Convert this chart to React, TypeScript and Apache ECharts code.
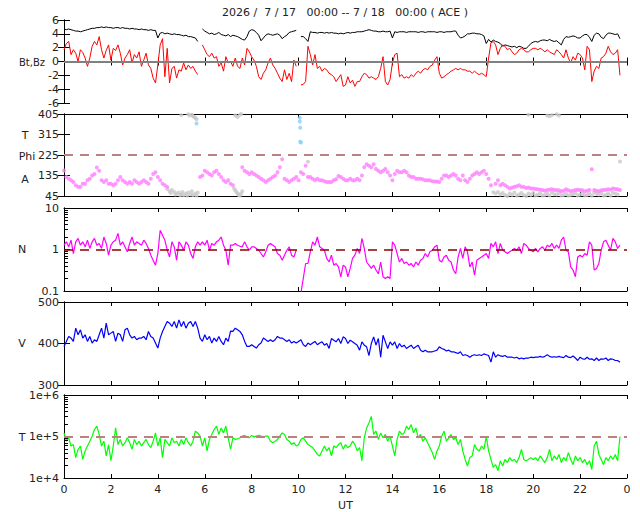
import React, { useEffect, useRef } from 'react';
import * as echarts from 'echarts';

const STEP = 0.1;
const FONT = 'DejaVu Sans';
const TITLE = '2026 /  7 / 17   00:00 -- 7 / 18   00:00 ( ACE )';
const X_TICKS_MAX = 24;

// Bt (black), one value per 0.1 h
const BT = [
  4.7,4.6,4.7,4.6,4.5,4.4,4.4,4.3,4.4,4.5,
  4.6,4.7,4.8,4.8,4.9,4.9,5.0,4.9,5.0,4.9,
  4.9,4.8,4.9,4.9,4.8,4.9,4.8,4.8,4.7,4.8,
  4.7,4.7,4.6,4.7,4.6,4.6,4.5,4.6,4.5,4.5,
  3.4,4.1,4.2,4.0,4.1,4.0,3.9,4.0,3.9,3.9,
  3.8,3.7,3.8,3.6,3.6,3.5,3.4,2.9,null,4.7,
  4.4,4.2,4.0,4.1,3.9,4.0,4.2,3.9,3.8,3.7,
  3.9,3.6,3.8,3.7,3.6,3.4,3.2,3.1,3.6,4.4,
  4.6,4.5,4.2,3.8,3.0,3.4,3.8,4.0,3.9,3.8,
  3.9,4.0,3.8,3.3,3.6,3.8,4.2,4.3,4.4,4.5,
  null,3.6,3.6,3.3,2.9,4.3,4.2,4.2,4.1,4.2,
  4.2,4.1,4.2,4.1,4.2,4.1,4.1,4.0,4.1,4.0,
  4.1,4.2,4.1,4.2,4.2,4.3,4.3,4.3,4.4,4.5,
  4.6,4.5,4.4,4.4,4.3,4.3,4.4,4.3,4.3,4.4,
  3.4,4.3,4.2,4.3,4.3,4.3,4.2,4.3,4.3,4.3,
  4.3,4.2,4.3,4.3,4.2,4.3,4.3,4.3,4.3,4.2,
  4.3,4.3,4.2,4.3,4.3,4.3,4.4,4.4,3.8,3.4,
  3.5,3.7,4.0,4.0,4.1,4.1,4.0,4.0,3.9,3.7,
  2.6,3.2,2.8,3.1,2.9,2.8,2.6,2.2,2.4,2.3,
  2.2,2.1,2.2,2.0,2.2,2.1,1.9,1.9,2.2,2.6,
  2.8,2.9,2.8,3.0,3.1,3.1,3.0,3.2,3.0,2.9,
  3.0,2.7,2.4,3.2,3.6,3.5,3.6,3.7,3.6,3.4,
  3.4,3.7,3.9,3.9,3.5,2.9,3.8,4.1,4.0,3.5,
  3.3,3.8,4.1,4.1,4.0,3.9,4.0,3.3,
];

// Bz (red)
const BZ = [
  1.7,2.6,2.9,1.0,1.7,1.2,0.0,1.7,1.3,0.5,
  -0.7,0.5,2.2,2.9,2.4,3.6,1.7,0.5,1.6,2.4,
  0.2,1.9,1.6,2.4,1.2,-0.5,0.5,1.0,1.7,-0.2,
  1.0,0.5,1.4,-0.7,0.2,1.2,-0.5,-1.0,-2.4,-3.1,
  -0.5,2.4,3.3,-2.2,1.9,-3.1,-1.0,-0.7,-2.4,-1.2,
  -1.4,-0.2,-1.2,-0.5,-1.0,-0.7,-1.4,-1.9,null,2.4,
  1.7,1.0,0.7,1.2,0.5,0.7,-0.7,-0.2,-1.4,0.7,
  -0.2,0.0,-0.7,0.5,-0.7,-1.0,0.5,-0.5,1.9,1.4,
  0.7,0.2,-0.7,-2.2,-2.6,-1.7,-1.2,-0.2,0.5,-0.5,
  -1.0,-1.7,-2.4,-2.9,-1.2,-2.6,-1.7,-2.9,0.2,-0.7,
  null,-3.4,-3.3,-2.9,2.2,1.0,-0.5,1.0,-1.0,-0.7,
  -1.4,-1.0,-1.2,-1.7,-1.9,-2.2,-2.9,-2.4,-1.9,-3.6,
  -3.4,-2.2,-3.1,-2.7,-3.6,-2.9,-2.9,-2.2,-1.7,-1.9,
  -2.4,-2.2,-2.4,-2.6,-2.2,-1.0,0.7,-2.9,-3.4,-2.6,
  -0.2,1.0,1.2,-2.2,-1.9,-2.4,-2.2,-2.4,-1.9,-2.2,
  -1.7,-1.4,-1.7,-1.2,-1.0,-1.2,-0.7,-0.5,0.2,0.7,
  -1.7,-2.4,-2.2,-1.9,-1.7,-1.4,-1.2,-1.0,-1.2,-1.0,
  -1.2,-1.2,-1.4,-1.4,-1.7,-1.4,-1.7,-1.9,-1.7,-1.9,
  -2.2,0.5,2.7,2.9,2.4,1.0,1.9,2.4,2.2,1.7,
  1.9,1.4,1.0,1.2,1.7,1.9,1.7,1.4,1.4,1.7,
  1.9,1.9,1.7,1.9,1.7,1.4,1.7,1.4,1.2,1.0,
  1.7,1.4,1.0,0.5,1.7,0.5,-0.2,0.7,0.2,1.2,
  1.0,0.5,-1.2,2.2,1.7,-2.9,-1.4,-0.7,-1.0,0.5,
  0.7,1.2,2.2,1.4,1.0,1.2,1.7,-2.0,
];

// Phi, away-sector points (violet)
const PHI_A = [
  157,128,121,114,106,92,85,85,99,99,
  114,121,135,142,170,156,114,106,114,99,
  99,92,99,114,128,114,106,99,106,99,
  114,106,99,106,114,106,99,121,142,149,
  128,114,99,92,85,null,null,null,null,null,
  null,null,null,null,null,null,null,null,128,135,
  156,149,142,135,149,156,142,128,114,106,
  114,99,92,null,null,null,171,156,149,142,
  149,142,135,128,121,114,106,114,121,128,
  135,149,171,206,121,114,106,114,121,128,
  114,149,142,178,128,128,121,114,121,114,
  114,110,106,106,106,114,119,133,128,121,
  114,114,121,114,114,121,114,135,171,184,
  178,171,184,164,156,149,156,164,149,135,
  114,142,156,149,149,156,149,135,128,128,
  121,121,121,118,114,114,114,110,109,109,
  106,121,135,135,128,135,142,135,121,114,
  135,114,106,121,135,142,149,142,149,156,
  142,121,92,null,99,114,92,99,92,85,
  78,82,85,88,92,85,85,80,82,78,
  78,76,75,72,71,68,71,73,75,71,
  71,70,66,68,75,70,66,68,71,72,
  71,70,66,68,71,162,71,68,66,70,
  71,72,75,73,78,76,75,71,
];

// Phi, grey points [hour, degrees]
const PHI_GRAY = [
  [4.4,76],[4.5,66],[4.55,58],[4.6,71],[4.7,63],[4.75,52],[4.8,56],[4.9,60],[4.95,49],[5.0,52],
  [5.05,63],[5.1,49],[5.2,56],[5.25,47],[5.3,60],[5.4,52],[5.45,66],[5.5,49],[5.6,56],[5.65,47],[5.7,60],
  [5.0,400],[5.3,404],[5.35,398],[5.45,402],[5.5,395],[5.55,392],[5.6,388],[5.65,382],
  [7.25,78],[7.3,70],[7.35,63],[7.4,56],[7.45,49],[7.5,47],[7.55,56],[7.6,66],
  [7.3,398],[7.4,392],[7.5,402],[7.55,405],
  [10.4,195],
  [18.3,61],[18.4,56],[18.5,63],[18.6,52],[18.7,58],[18.8,49],[18.9,45],[19.0,56],[19.1,50],[19.2,60],
  [19.3,47],[19.4,52],[19.5,58],[19.6,49],[19.7,45],[19.8,56],[19.9,50],[20.0,58],[20.1,47],[20.2,52],
  [20.3,56],[20.4,47],[20.5,50],[20.6,55],[20.7,47],[20.8,60],[20.9,53],[21.0,52],[21.1,58],[21.2,47],
  [21.3,50],[21.4,55],[21.5,47],[21.6,50],[21.7,53],[21.8,58],[21.9,47],[22.0,52],[22.1,55],[22.2,48],
  [22.3,50],[22.4,55],[22.5,47],[22.6,60],[22.7,55],[22.8,52],[22.9,58],[23.0,47],[23.1,50],[23.2,56],
  [23.3,47],[23.4,60],[23.5,55],[23.6,52],
  [19.8,402],[20.6,398],[20.7,395],[20.8,400],[21.0,404],[21.1,398],
  [23.7,196],
];

// Phi, light blue points [hour, degrees]
const PHI_BLUE = [[5.65,363],[10.05,388],[10.05,372],[10.07,345],[10.07,283],[10.1,280]];

// Density N (cm^-3)
const DENS = [
  1.27,1.53,1.16,1.68,0.80,1.53,1.85,1.27,1.53,1.16,
  1.68,1.06,1.53,1.85,1.27,1.40,1.06,2.0,1.40,0.73,
  1.27,1.53,1.68,2.44,1.27,1.53,1.16,0.88,1.40,2.0,
  1.27,1.53,1.40,1.27,1.68,1.40,1.06,0.73,0.55,0.42,
  0.80,2.9,2.2,1.68,0.96,0.66,1.53,1.16,0.55,1.53,
  1.27,0.96,1.53,1.27,0.80,0.61,1.16,1.53,1.27,1.53,
  1.27,1.68,0.96,1.40,1.27,1.53,1.68,2.0,1.27,0.96,
  0.42,1.27,1.27,1.40,1.27,1.20,1.16,1.53,1.16,0.96,
  1.16,1.16,1.06,0.96,0.80,0.66,0.88,1.27,1.40,1.27,
  1.16,0.80,0.73,0.55,0.73,0.96,1.16,0.73,0.66,0.96,
  null,0.09,0.20,0.46,0.46,0.88,1.53,1.27,2.0,1.16,
  1.06,0.96,0.61,0.50,0.73,0.42,0.46,0.38,0.22,0.42,
  0.38,0.22,0.35,0.61,0.73,1.06,0.80,1.85,1.06,0.50,
  0.42,0.35,0.42,0.32,0.26,0.50,0.22,0.20,0.22,0.20,
  1.53,1.27,0.80,0.50,0.61,0.46,0.50,0.42,0.46,0.38,
  0.50,0.42,0.55,0.61,0.80,0.66,0.88,0.96,1.16,1.27,
  0.55,0.50,0.66,0.73,0.55,0.50,0.32,0.26,0.66,1.06,
  0.61,1.16,0.88,0.38,0.50,0.24,0.55,0.61,0.66,0.73,
  0.80,0.61,1.40,1.16,1.53,0.80,1.40,0.96,0.88,0.80,
  0.88,0.96,1.06,0.96,1.16,0.80,1.40,1.27,1.06,0.96,
  0.88,1.06,0.88,1.06,1.16,0.96,1.27,1.16,1.40,1.06,
  1.27,1.06,1.68,2.0,0.96,0.88,0.38,0.32,0.22,0.66,
  0.73,0.66,0.80,0.73,1.53,1.27,0.32,0.35,0.46,0.96,
  1.53,1.68,1.27,0.96,1.85,1.53,1.06,1.27,
];

// Speed V (km/s)
const SPEED = [
  393,405,417,413,405,437,421,433,413,421,
  405,417,401,409,405,421,437,413,449,421,
  425,429,405,425,421,405,433,437,421,413,
  417,409,413,413,417,409,429,417,413,401,
  389,413,429,441,453,449,441,453,437,457,
  441,453,437,449,453,441,453,437,413,405,
  421,409,417,401,413,405,417,405,397,413,
  405,430,429,437,433,429,421,405,393,393,
  397,393,389,397,401,413,409,405,409,405,
  409,417,413,413,409,405,409,401,405,401,
  405,409,397,393,401,397,401,405,397,401,
  404,396,400,388,412,408,404,412,400,416,
  412,400,408,404,400,396,384,404,396,392,
  371,400,416,396,412,367,420,404,388,404,
  396,404,388,400,392,396,388,392,396,388,
  392,396,384,380,384,380,380,380,382,384,
  392,388,386,382,384,380,380,378,376,380,
  371,373,371,367,371,373,371,373,371,375,
  373,371,355,380,367,373,370,369,371,367,
  367,367,365,367,363,365,363,365,365,367,
  366,367,367,369,367,369,373,369,367,368,
  367,369,367,366,371,367,366,370,365,359,
  367,363,362,367,362,363,359,365,359,363,
  362,365,359,363,362,359,359,355,
];

// Temperature T (K)
const TEMP = [
  1.22e5,7.7e4,9.3e4,5.9e4,6.4e4,3.1e4,4.9e4,5.9e4,2.8e4,4.5e4,
  5.9e4,7.7e4,1.02e5,1.47e5,1.77e5,1.12e5,5.9e4,7.7e4,3.4e4,6.4e4,
  2.6e4,5.9e4,1.61e5,6.4e4,8.5e4,5.9e4,7.1e4,9.3e4,7.1e4,4.9e4,
  8.5e4,6.4e4,7.7e4,5.9e4,7.1e4,8.5e4,6.4e4,5.4e4,7.7e4,1.22e5,
  5.9e4,9.3e4,3.1e4,8.5e4,7.1e4,5.9e4,9.3e4,7.1e4,7.7e4,5.9e4,
  8.5e4,6.4e4,9.3e4,7.1e4,5.9e4,7.7e4,1.34e5,1.22e5,1.02e5,5.9e4,
  9.3e4,4.5e4,8.5e4,1.12e5,1.47e5,1.77e5,1.12e5,1.61e5,1.22e5,1.77e5,
  9.3e4,4.9e4,9.3e4,8.5e4,8.8e4,9.3e4,1.02e5,1.06e5,9.8e4,9.3e4,
  1.06e5,9.8e4,1.02e5,1.06e5,1.02e5,9.8e4,1.02e5,1.02e5,7.7e4,7.1e4,
  7.7e4,8.5e4,1.02e5,1.22e5,1.12e5,8.5e4,7.7e4,6.4e4,7.1e4,5.9e4,
  6.4e4,8.5e4,9.3e4,7.7e4,6.4e4,5.9e4,5.4e4,4.5e4,3.7e4,3.4e4,
  4.5e4,5.9e4,4.5e4,5.4e4,3.4e4,5.9e4,5.4e4,6.4e4,7.1e4,4.9e4,
  6.4e4,5.4e4,5.9e4,7.7e4,6.4e4,4.5e4,5.4e4,2.6e4,9.3e4,1.61e5,
  2.12e5,3.06e5,1.12e5,1.34e5,8.5e4,1.22e5,9.3e4,1.12e5,7.7e4,1.02e5,
  5.9e4,3.4e4,8.5e4,1.34e5,1.12e5,1.22e5,1.77e5,1.47e5,1.94e5,1.22e5,
  1.61e5,9.3e4,1.12e5,7.7e4,9.3e4,7.1e4,5.4e4,4.1e4,2.8e4,4.5e4,
  5.9e4,1.02e5,1.34e5,7.7e4,9.3e4,1.12e5,8.5e4,9.3e4,6.4e4,8.5e4,
  4.5e4,2.8e4,1.95e4,3.1e4,3.4e4,6.4e4,4.9e4,4.5e4,5.9e4,4.9e4,
  1.0e5,4.5e4,2.8e4,1.8e4,2.1e4,1.5e4,2.6e4,1.95e4,2.8e4,2.35e4,
  3.1e4,2.6e4,2.8e4,2.35e4,3.1e4,4.9e4,2.8e4,2.6e4,2.8e4,3.1e4,
  2.8e4,3.1e4,2.6e4,3.4e4,2.8e4,2.35e4,3.1e4,4.9e4,2.6e4,3.4e4,
  2.8e4,3.7e4,2.35e4,3.1e4,2.6e4,4.1e4,2.8e4,2.1e4,3.4e4,2.6e4,
  3.1e4,2.35e4,2.8e4,2.1e4,2.6e4,1.6e4,5.9e4,7.7e4,3.7e4,2.8e4,
  2.1e4,3.1e4,2.6e4,3.4e4,2.8e4,3.7e4,2.6e4,1.0e5,
];

const N_MINOR = [0.2,0.3,0.4,0.5,0.6,0.7,0.8,0.9,2,3,4,5,6,7,8,9];
const T_MINOR = [2e4,3e4,4e4,5e4,6e4,7e4,8e4,9e4,2e5,3e5,4e5,5e5,6e5,7e5,8e5,9e5];
const MINOR_TICK_HOURS = 0.17; // length of a minor tick, in x-axis units

const PANELS = [
  { top: 20, height: 83, type: 'value', min: -6, max: 6, interval: 2 },
  { top: 114, height: 82, type: 'value', min: 45, max: 405, interval: 90 },
  { top: 208, height: 83, type: 'log', min: 0.1, max: 10 },
  { top: 302, height: 83, type: 'value', min: 300, max: 500, interval: 100 },
  { top: 395, height: 84, type: 'log', min: 1e4, max: 1e6 },
];

const toPairs = (arr: (number | null)[]) =>
  arr.map((v, i) => [Math.round(i * STEP * 10) / 10, v == null ? '-' : v]);
const toPoints = (arr: (number | null)[]) =>
  arr.map((v, i) => [Math.round(i * STEP * 10) / 10, v]).filter((p) => p[1] != null);

const fmtLog = (v: number) => String(Number(v.toPrecision(3)));
const fmtExp = (v: number) => '1e+' + Math.round(Math.log10(v));

// dashed reference line + minor ticks of the log axis, all through the axis scales
const refAndTicks = (y: number, color: string, width: number, minor: number[]) => ({
  silent: true,
  symbol: ['none', 'none'],
  label: { show: false },
  lineStyle: { color, width, type: [9, 7] },
  data: [
    { yAxis: y },
    ...minor.map((v) => [
      { coord: [0, v], lineStyle: { color: '#000', width: 1, type: 'solid' } },
      { coord: [MINOR_TICK_HOURS, v] },
    ]),
  ],
});

export default function App() {
  const ref = useRef<HTMLDivElement>(null);
  useEffect(() => {
    if (!ref.current) return;
    const chart = echarts.init(ref.current, undefined, { renderer: 'svg' });
    const axisLine = { show: true, lineStyle: { color: '#000', width: 1 } };
    const labelStyle = { fontSize: 11, color: '#222', fontFamily: FONT };

    const xAxis: any[] = [];
    const yAxis: any[] = [];
    PANELS.forEach((p, i) => {
      const last = i === PANELS.length - 1;
      xAxis.push({
        type: 'value', gridIndex: i, min: 0, max: X_TICKS_MAX, interval: 2, position: 'bottom',
        axisLine, axisTick: { inside: true, length: 4, lineStyle: { color: '#000' } },
        axisLabel: { show: last, ...labelStyle, margin: 6, formatter: (v: number) => (v === 24 ? '0' : String(v)) },
        splitLine: { show: false },
        name: last ? 'UT' : '', nameLocation: 'middle', nameGap: 22,
        nameTextStyle: { ...labelStyle },
      });
      xAxis.push({
        type: 'value', gridIndex: i, min: 0, max: X_TICKS_MAX, interval: 2, position: 'top',
        axisLine, axisTick: { inside: true, length: 4, lineStyle: { color: '#000' } },
        axisLabel: { show: false }, splitLine: { show: false },
      });
      const isLog = p.type === 'log';
      const base: any = { type: p.type, gridIndex: i, min: p.min, max: p.max };
      if (isLog) base.logBase = 10; else base.interval = p.interval;
      yAxis.push({
        ...base, position: 'left', axisLine,
        axisTick: { inside: true, length: 6, lineStyle: { color: '#000' } },
        axisLabel: {
          ...labelStyle, margin: 5,
          formatter: i === 4 ? fmtExp : i === 2 ? fmtLog : undefined,
        },
        splitLine: { show: false },
      });
      yAxis.push({
        ...base, position: 'right', axisLine,
        axisTick: { show: !isLog, inside: true, length: 6, lineStyle: { color: '#000' } },
        axisLabel: { show: false }, splitLine: { show: false },
      });
    });

    const dashed = (y: number, color: string, width: number) => ({
      silent: true, symbol: ['none', 'none'], label: { show: false },
      lineStyle: { color, width, type: [9, 7] },
      data: [{ yAxis: y }],
    });

    const option: any = {
      animation: false,
      backgroundColor: '#fff',
      textStyle: { fontFamily: FONT },
      grid: PANELS.map((p) => ({ left: 64, right: 13, top: p.top, height: p.height })),
      xAxis, yAxis,
      series: [
        {
          type: 'line', xAxisIndex: 0, yAxisIndex: 0, data: toPairs(BT), showSymbol: false,
          lineStyle: { color: '#000', width: 1 }, itemStyle: { color: '#000' },
          markLine: { silent: true, symbol: ['none', 'none'], label: { show: false },
            lineStyle: { color: '#808080', width: 2, type: 'solid' }, data: [{ yAxis: 0 }] },
        },
        {
          type: 'line', xAxisIndex: 0, yAxisIndex: 0, data: toPairs(BZ), showSymbol: false,
          lineStyle: { color: '#ff0000', width: 1 }, itemStyle: { color: '#ff0000' },
        },
        {
          type: 'scatter', xAxisIndex: 2, yAxisIndex: 2, data: PHI_GRAY, symbolSize: 4,
          itemStyle: { color: '#c8c8c8' },
        },
        {
          type: 'scatter', xAxisIndex: 2, yAxisIndex: 2, data: PHI_BLUE, symbolSize: 4,
          itemStyle: { color: '#87cefa' },
        },
        {
          type: 'scatter', xAxisIndex: 2, yAxisIndex: 2, data: toPoints(PHI_A), symbolSize: 4,
          itemStyle: { color: '#ff80ff' },
          markLine: dashed(225, '#bc8080', 2),
        },
        {
          type: 'line', xAxisIndex: 4, yAxisIndex: 4, data: toPairs(DENS), showSymbol: false,
          lineStyle: { color: '#ff00ff', width: 1.2 }, itemStyle: { color: '#ff00ff' },
          markLine: refAndTicks(1, '#8b0000', 1.5, N_MINOR),
        },
        {
          type: 'line', xAxisIndex: 6, yAxisIndex: 6, data: toPairs(SPEED), showSymbol: false,
          lineStyle: { color: '#0000ff', width: 1.2 }, itemStyle: { color: '#0000ff' },
        },
        {
          type: 'line', xAxisIndex: 8, yAxisIndex: 8, data: toPairs(TEMP), showSymbol: false,
          lineStyle: { color: '#00ff00', width: 1.2 }, itemStyle: { color: '#00ff00' },
          markLine: refAndTicks(1e5, '#bc8080', 2, T_MINOR),
        },
      ],
      graphic: [
        { type: 'text', x: 345, y: 12, style: { text: TITLE, font: `11px "${FONT}"`, fill: '#222', textAlign: 'center', textVerticalAlign: 'middle' } },
        { type: 'text', x: 32, y: 62, style: { text: 'Bt,Bz', font: `10px "${FONT}"`, fill: '#222', textAlign: 'center', textVerticalAlign: 'middle' } },
        { type: 'text', x: 25, y: 135, style: { text: 'T', font: `11px "${FONT}"`, fill: '#222', textAlign: 'center', textVerticalAlign: 'middle' } },
        { type: 'text', x: 27, y: 156, style: { text: 'Phi', font: `11px "${FONT}"`, fill: '#222', textAlign: 'center', textVerticalAlign: 'middle' } },
        { type: 'text', x: 25, y: 179, style: { text: 'A', font: `11px "${FONT}"`, fill: '#222', textAlign: 'center', textVerticalAlign: 'middle' } },
        { type: 'text', x: 22, y: 249, style: { text: 'N', font: `11px "${FONT}"`, fill: '#222', textAlign: 'center', textVerticalAlign: 'middle' } },
        { type: 'text', x: 22, y: 343, style: { text: 'V', font: `11px "${FONT}"`, fill: '#222', textAlign: 'center', textVerticalAlign: 'middle' } },
        { type: 'text', x: 22, y: 437, style: { text: 'T', font: `11px "${FONT}"`, fill: '#222', textAlign: 'center', textVerticalAlign: 'middle' } },
      ],
    };
    chart.setOption(option);
    return () => chart.dispose();
  }, []);
  return (
    <div
      ref={ref}
      style={{ position: 'fixed', left: 0, top: 0, width: 640, height: 512, background: '#fff' }}
    />
  );
}
